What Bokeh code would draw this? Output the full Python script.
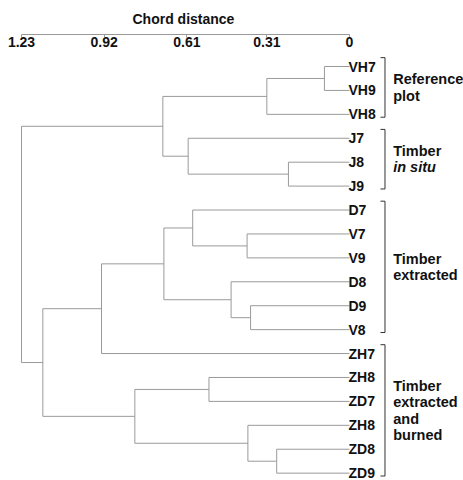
from bokeh.plotting import figure
from bokeh.models import Range1d, LinearAxis, FixedTicker, ColumnDataSource, Title
from bokeh.core.properties import value
from bokeh.embed import file_html
from bokeh.resources import INLINE

# ---------------- data ----------------
leaf_labels = ["VH7", "VH9", "VH8", "J7", "J8", "J9", "D7", "V7", "V9",
               "D8", "D9", "V8", "ZH7", "ZH8", "ZD7", "ZH8", "ZD8", "ZD9"]
# agglomerative merges: node id = 18 + merge index
merge_left = [0, 18, 4, 3, 19, 7, 6, 10, 9, 24, 27, 13, 16, 15, 29, 28, 22]
merge_right = [1, 2, 5, 20, 21, 8, 23, 11, 25, 26, 12, 14, 17, 30, 31, 32, 33]
merge_height = [0.094, 0.31, 0.229, 0.605, 0.70, 0.384, 0.588, 0.371, 0.444,
                0.696, 0.93, 0.527, 0.273, 0.381, 0.805, 1.15, 1.23]

tick_values = [1.23, 0.92, 0.61, 0.31, 0]
tick_labels = ["1.23", "0.92", "0.61", "0.31", "0"]

group_first = [0, 3, 6, 12]
group_last = [2, 5, 11, 17]
group_lines = [["Reference", "plot"],
               ["Timber", "in situ"],
               ["Timber", "extracted"],
               ["Timber", "extracted", "and", "burned"]]
group_italic = [[False, False], [False, True], [False, False],
                [False, False, False, False]]

FONT = value("Liberation Sans")
LINE_COL = "#9a9a9a"
TXT_COL = "#111111"

# ---------------- tree geometry ----------------
n = len(leaf_labels)
node_x = [0.0] * n
node_y = [float(i) for i in range(n)]
x0, y0, x1, y1 = [], [], [], []
for a, b, h in zip(merge_left, merge_right, merge_height):
    ya, yb = node_y[a], node_y[b]
    x0.append(h); y0.append(ya); x1.append(h); y1.append(yb)
    for c in (a, b):
        x0.append(node_x[c]); y0.append(node_y[c]); x1.append(h); y1.append(node_y[c])
    node_x.append(h)
    node_y.append((ya + yb) / 2.0)

tree_src = ColumnDataSource(dict(x0=x0, y0=y0, x1=x1, y1=y1))

p = figure(width=463, height=480,
           x_range=Range1d(1.30875, -0.4275),
           y_range=Range1d(17.307, -1.338),
           output_backend="svg", toolbar_location=None,
           x_axis_location=None, y_axis_location=None,
           min_border_left=0, min_border_right=0,
           min_border_top=34, min_border_bottom=0)
p.xgrid.grid_line_color = None
p.ygrid.grid_line_color = None
p.outline_line_color = None

p.segment("x0", "y0", "x1", "y1", source=tree_src, line_color=LINE_COL, line_width=1)

# leaf labels
p.text(x=[0.0] * n, y=list(range(n)), text=leaf_labels,
       text_font=FONT, text_font_style="bold", text_font_size="14px",
       text_baseline="middle", text_align="left", text_color=TXT_COL, x_offset=-1)

# brackets and group labels
XB = -0.1331
XT = -0.1162
XL = -0.1639
LS = 0.69
bx0, by0, bx1, by1 = [], [], [], []
tx, ty, tt, tstyle = [], [], [], []
for f, l, lines, ital in zip(group_first, group_last, group_lines, group_italic):
    top = f - 0.37
    bot = l + 0.12
    bx0 += [XB, XT, XT]; by0 += [top, top, bot]
    bx1 += [XB, XB, XB]; by1 += [bot, top, bot]
    mid = (top + bot) / 2.0
    k = len(lines)
    for j, (s, it) in enumerate(zip(lines, ital)):
        tx.append(XL)
        ty.append(mid + (j - (k - 1) / 2.0) * LS)
        tt.append(s)
        tstyle.append("bold italic" if it else "bold")

p.segment(bx0, by0, bx1, by1, line_color="#333333", line_width=1)
p.text(x=tx, y=ty, text=tt, text_font=FONT, text_font_style=tstyle,
       text_font_size="14.5px", text_baseline="middle", text_align="left",
       text_color=TXT_COL)

# axis on top
ax = LinearAxis(ticker=FixedTicker(ticks=tick_values), bounds=(0, 1.23))
ax.major_label_overrides = {t: s for t, s in zip(tick_values, tick_labels)}
ax.axis_line_color = "#999999"
ax.major_tick_line_color = "#999999"
ax.major_tick_out = 0
ax.major_tick_in = 3
ax.minor_tick_out = 0
ax.minor_tick_in = 0
ax.major_label_standoff = -12
ax.major_label_text_font = "Liberation Sans"
ax.major_label_text_font_style = "bold"
ax.major_label_text_font_size = "14px"
ax.major_label_text_color = TXT_COL
p.add_layout(ax, "above")

title = Title(text="Chord distance", align="left", offset=132,
              text_font="Liberation Sans", text_font_style="bold",
              text_font_size="14px", text_color=TXT_COL, standoff=14)
p.add_layout(title, "above")

open("out.html", "w").write(file_html(p, INLINE))
